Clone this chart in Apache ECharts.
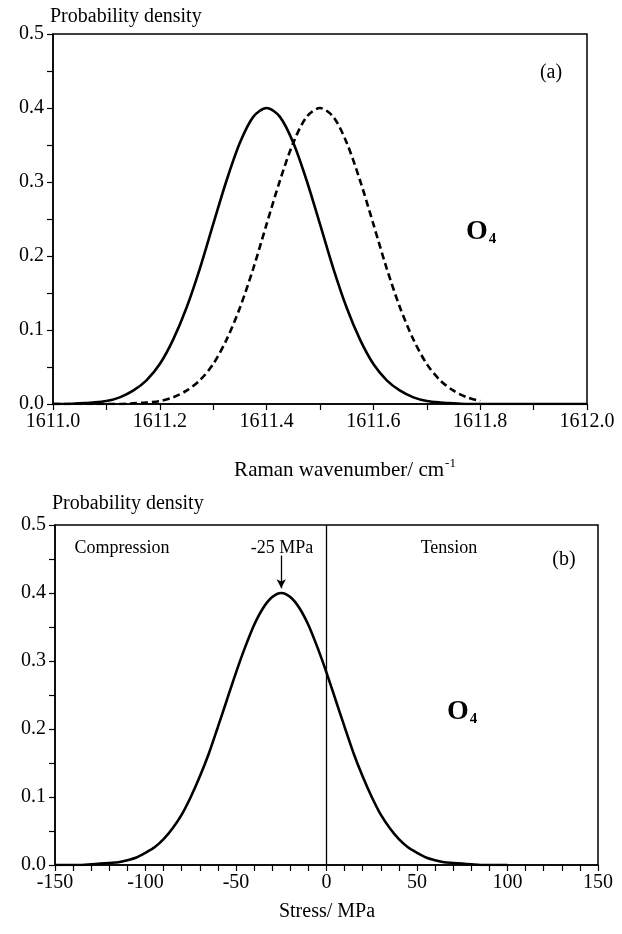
<!DOCTYPE html>
<html>
<head>
<meta charset="utf-8">
<script src="https://cdn.jsdelivr.net/npm/echarts@6/dist/echarts.min.js"></script>
<style>
html,body{margin:0;padding:0;background:#fff;}
#chart{width:622px;height:934px;}
</style>
</head>
<body>
<div id="chart"></div>
<script>
// ---- data ----
var wavenumber = [1611.000,1611.025,1611.050,1611.075,1611.100,1611.125,1611.150,1611.175,1611.200,1611.225,
  1611.250,1611.275,1611.300,1611.325,1611.350,1611.375,1611.400,1611.425,1611.450,1611.475,
  1611.500,1611.525,1611.550,1611.575,1611.600,1611.625,1611.650,1611.675,1611.700,1611.725,
  1611.750,1611.775,1611.800,1611.825,1611.850,1611.875,1611.900,1611.925,1611.950,1611.975,1612.000];
var densitySolid = [0.000,0.000,0.001,0.002,0.004,0.009,0.018,0.032,0.054,0.087,
  0.130,0.183,0.243,0.302,0.353,0.388,0.400,0.388,0.353,0.302,
  0.243,0.183,0.130,0.087,0.054,0.032,0.018,0.009,0.004,0.002,
  0.001,0.000,0.000,0.000,0.000,0.000,0.000,0.000,0.000,0.000,0.000];
var densityDashed = [0.000,0.000,0.000,0.000,0.000,0.000,0.001,0.002,0.004,0.009,
  0.018,0.032,0.054,0.087,0.130,0.183,0.243,0.302,0.353,0.388,
  0.400,0.388,0.353,0.302,0.243,0.183,0.130,0.087,0.054,0.032,
  0.018,0.009,0.004];
var stress = [-150,-145,-140,-135,-130,-125,-120,-115,-110,-105,-100,-95,-90,-85,-80,-75,-70,-65,-60,-55,
  -50,-45,-40,-35,-30,-25,-20,-15,-10,-5,0,5,10,15,20,25,30,35,40,45,50,55,60,65,70,75,80,85,90,95,100];
var densityStress = [0.000,0.000,0.000,0.000,0.001,0.002,0.003,0.004,0.007,0.011,0.018,0.026,0.038,0.054,0.074,0.100,0.130,0.164,0.203,0.243,
  0.283,0.320,0.353,0.378,0.394,0.400,0.394,0.378,0.353,0.320,0.283,0.243,0.203,0.164,0.130,0.100,0.074,0.054,0.038,0.026,0.018,0.011,0.007,0.004,0.003,0.002,0.001,0.000,0.000,0.000,0.000];
var peakStress = -25;
var arrowRange = [0.455, 0.407];
var yTicks = [0, 0.5, 0.1];
var topXRange = [1611.0, 1612.0, 0.2];
var bottomXRange = [-150, 150, 50];

// ---- chart ----
var FONT = 'Liberation Serif';
var chart = echarts.init(document.getElementById('chart'), null, {renderer:'canvas'});
function pair(xs, ys){ return ys.map(function(y,i){ return [xs[i], y]; }); }
function yAxisCfg(gi){
  return {
    gridIndex: gi, type:'value', min:yTicks[0], max:yTicks[1], interval:yTicks[2],
    axisLine:{show:true, onZero:false, lineStyle:{color:'#000', width:1.5}},
    axisTick:{show:true, inside:false, length:6, lineStyle:{color:'#000', width:1.2}},
    minorTick:{show:true, splitNumber:2, length:6, lineStyle:{color:'#000', width:1.2}},
    splitLine:{show:false},
    axisLabel:{color:'#000', fontFamily:FONT, fontSize:20, margin:9, formatter:function(v){return v.toFixed(1);}}
  };
}
function xAxisCfg(gi, r, minorSplit, fmt){
  return {
    gridIndex: gi, type:'value', min:r[0], max:r[1], interval:r[2],
    axisLine:{show:true, onZero:false, lineStyle:{color:'#000', width:1.5}},
    axisTick:{show:true, inside:false, length:6, lineStyle:{color:'#000', width:1.2}},
    minorTick:{show:true, splitNumber:minorSplit, length:6, lineStyle:{color:'#000', width:1.2}},
    splitLine:{show:false},
    axisLabel:{color:'#000', fontFamily:FONT, fontSize:20, margin:8, formatter:fmt}
  };
}
var option = {
  backgroundColor:'#fff',
  animation:false,
  grid:[
    {left:53, top:34, width:534, height:370, show:true, borderColor:'#000', borderWidth:1.5},
    {left:55, top:525, width:543, height:340, show:true, borderColor:'#000', borderWidth:1.5}
  ],
  xAxis:[
    xAxisCfg(0, topXRange, 2, function(v){return v.toFixed(1);}),
    xAxisCfg(1, bottomXRange, 5, function(v){return String(Math.round(v));})
  ],
  yAxis:[yAxisCfg(0), yAxisCfg(1)],
  series:[
    {type:'line', xAxisIndex:0, yAxisIndex:0, data:pair(wavenumber, densitySolid), smooth:0.3, showSymbol:false,
     lineStyle:{color:'#000', width:2.6}},
    {type:'line', xAxisIndex:0, yAxisIndex:0, data:pair(wavenumber, densityDashed), smooth:0.3, showSymbol:false,
     lineStyle:{color:'#000', width:2.6, type:[7,4]}},
    {type:'line', xAxisIndex:1, yAxisIndex:1, data:pair(stress, densityStress), smooth:0.3, showSymbol:false,
     lineStyle:{color:'#000', width:2.6},
     markLine:{silent:true, animation:false, label:{show:false},
       data:[
         [{coord:[0, yTicks[0]], symbol:'none'}, {coord:[0, yTicks[1]], symbol:'none'}],
         [{coord:[peakStress, arrowRange[0]], symbol:'none'}, {coord:[peakStress, arrowRange[1]], symbol:'arrow', symbolSize:[7,9]}]
       ],
       lineStyle:{color:'#000', width:1.3, type:'solid'}}
    }
  ],
  graphic:[
    {type:'text', left:50, top:7, style:{text:'Probability density', font:'20px "Liberation Serif"', fill:'#000'}},
    {type:'text', left:52, top:494, style:{text:'Probability density', font:'20px "Liberation Serif"', fill:'#000'}},
    {type:'text', x:551, y:73, style:{text:'(a)', font:'20px "Liberation Serif"', fill:'#000', align:'center', verticalAlign:'middle'}},
    {type:'text', x:466, y:232, style:{text:'{o|O}{s|4}', verticalAlign:'middle', rich:{
      o:{font:'bold 28px "Liberation Serif"', fill:'#000'},
      s:{font:'bold 15px "Liberation Serif"', fill:'#000', padding:[14,0,0,1]}}}},
    {type:'text', x:345, y:470, style:{text:'Raman wavenumber/ cm{sup|-1}', font:'21px "Liberation Serif"', fill:'#000', align:'center', verticalAlign:'middle',
      rich:{sup:{font:'13px "Liberation Serif"', fill:'#000', padding:[0,0,12,1]}}}},
    {type:'text', x:122, y:548, style:{text:'Compression', font:'18px "Liberation Serif"', fill:'#000', align:'center', verticalAlign:'middle'}},
    {type:'text', x:282, y:548, style:{text:'-25 MPa', font:'18px "Liberation Serif"', fill:'#000', align:'center', verticalAlign:'middle'}},
    {type:'text', x:449, y:548, style:{text:'Tension', font:'18px "Liberation Serif"', fill:'#000', align:'center', verticalAlign:'middle'}},
    {type:'text', x:564, y:560, style:{text:'(b)', font:'20px "Liberation Serif"', fill:'#000', align:'center', verticalAlign:'middle'}},
    {type:'text', x:447, y:712, style:{text:'{o|O}{s|4}', verticalAlign:'middle', rich:{
      o:{font:'bold 28px "Liberation Serif"', fill:'#000'},
      s:{font:'bold 15px "Liberation Serif"', fill:'#000', padding:[14,0,0,1]}}}},
    {type:'text', x:327, y:912, style:{text:'Stress/ MPa', font:'20px "Liberation Serif"', fill:'#000', align:'center', verticalAlign:'middle'}}
  ]
};
chart.setOption(option);
</script>
</body>
</html>
